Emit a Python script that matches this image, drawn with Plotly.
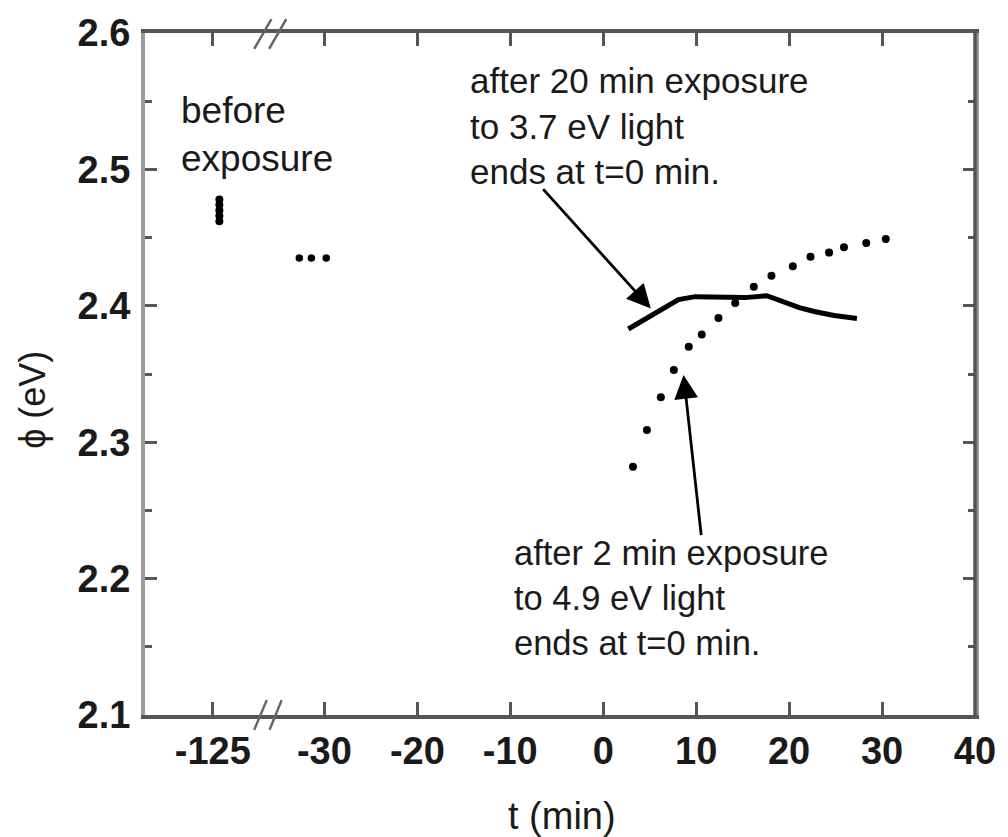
import plotly.graph_objects as go

# ---------------- data (real times in minutes, work function in eV) ----------------
t_before = [-124.3, -124.3, -124.3, -124.3, -124.3]
phi_before = [2.462, 2.466, 2.470, 2.474, 2.478]

t_pre = [-32.7, -31.4, -29.8]
phi_pre = [2.435, 2.435, 2.435]

# after 2 min exposure to 4.9 eV light
t_49 = [3.2, 4.7, 6.2, 7.6, 9.2, 10.6, 12.4, 14.2, 16.2, 18.1, 20.4, 22.3, 24.3, 25.9, 28.3, 30.4]
phi_49 = [2.282, 2.309, 2.333, 2.353, 2.370, 2.379, 2.391, 2.402, 2.414, 2.422, 2.429, 2.436,
          2.439, 2.443, 2.446, 2.449]

# after 20 min exposure to 3.7 eV light
t_37 = [2.7, 4.05, 5.65, 6.9, 8.1, 9.9, 12.8, 15.25, 17.6, 19.5, 21.1, 22.7, 24.85, 27.3]
phi_37 = [2.383, 2.3885, 2.394, 2.400, 2.4045, 2.4067, 2.4067, 2.406, 2.4074, 2.4023, 2.3987,
          2.3958, 2.3929, 2.3907]

tick_vals = [-125, -30, -20, -10, 0, 10, 20, 30, 40]
tick_text = ["-125", "-30", "-20", "-10", "0", "10", "20", "30", "40"]

# broken time axis: everything before the break is shifted right
BREAK_AT = -40
BREAK_SHIFT = 83


def disp(t):
    return [v + BREAK_SHIFT if v < BREAK_AT else v for v in t]


FONT = "Liberation Sans, Arial, sans-serif"
INK = "#1a1a1a"

fig = go.Figure()
fig.add_trace(go.Scatter(x=disp(t_before), y=phi_before, mode="markers",
                         marker=dict(color="black", size=8, symbol="circle"), showlegend=False))
fig.add_trace(go.Scatter(x=disp(t_pre), y=phi_pre, mode="markers",
                         marker=dict(color="black", size=7.5, symbol="circle"), showlegend=False))
fig.add_trace(go.Scatter(x=disp(t_49), y=phi_49, mode="markers",
                         marker=dict(color="black", size=8, symbol="circle"), showlegend=False))
fig.add_trace(go.Scatter(x=disp(t_37), y=phi_37, mode="lines",
                         line=dict(color="black", width=5), showlegend=False))

ann = []
ann.append(dict(x=-45.65, y=2.560, xref="x", yref="y", xanchor="left", yanchor="top",
                align="left", showarrow=False, text="before<br>exposure",
                font=dict(family=FONT, size=37, color=INK)))
ann.append(dict(x=-14.6, y=2.5811, xref="x", yref="y", xanchor="left", yanchor="top",
                align="left", showarrow=False,
                text="after 20 min exposure<br>to 3.7 eV light<br>ends at t=0 min.",
                font=dict(family=FONT, size=35, color=INK)))
ann.append(dict(x=-9.8, y=2.2345, xref="x", yref="y", xanchor="left", yanchor="top",
                align="left", showarrow=False,
                text="after 2 min exposure<br>to 4.9 eV light<br>ends at t=0 min.",
                font=dict(family=FONT, size=34.5, color=INK)))
# arrows
ann.append(dict(x=5.12, y=2.398, ax=-6.61, ay=2.4866, xref="x", yref="y", axref="x", ayref="y",
                text="", showarrow=True, arrowhead=2, arrowsize=1.7, arrowwidth=2.8,
                arrowcolor="black"))
ann.append(dict(x=8.64, y=2.3493, ax=10.56, ay=2.2308, xref="x", yref="y", axref="x", ayref="y",
                text="", showarrow=True, arrowhead=2, arrowsize=1.7, arrowwidth=2.8,
                arrowcolor="black"))
# axis titles
ann.append(dict(x=0.503, y=-0.148, xref="paper", yref="paper", xanchor="center", yanchor="middle",
                showarrow=False, text="t (min)", font=dict(family=FONT, size=38, color=INK)))
ann.append(dict(x=-0.135, y=0.462, xref="paper", yref="paper", xanchor="center", yanchor="middle",
                showarrow=False, text="ϕ (eV)", textangle=-90,
                font=dict(family=FONT, size=36, color=INK)))

shapes = []
# axis break marks (display coordinates)
for (x0, x1) in [(-37.55, -35.7), (-35.95, -34.1)]:
    shapes.append(dict(type="line", xref="x", yref="paper", x0=x0, x1=x1, y0=0.9767, y1=1.0203,
                       line=dict(color="#666", width=2.5)))
for (x0, x1) in [(-37.55, -36.2), (-35.9, -34.6)]:
    shapes.append(dict(type="line", xref="x", yref="paper", x0=x0, x1=x1, y0=-0.0218, y1=0.0218,
                       line=dict(color="#666", width=2.5)))
# darker right frame edge
shapes.append(dict(type="line", xref="paper", yref="paper", x0=1, x1=1, y0=0, y1=1,
                   line=dict(color="#555", width=3.5)))

fig.update_layout(
    width=1008, height=837,
    margin=dict(l=145, r=26, t=27, b=122),
    paper_bgcolor="white", plot_bgcolor="white",
    annotations=ann, shapes=shapes,
    font=dict(family=FONT, color=INK),
    xaxis=dict(range=[-49.3, 40], tickmode="array", tickvals=disp(tick_vals), ticktext=tick_text,
               ticks="inside", ticklen=13, tickwidth=3, tickcolor="#555",
               showline=True, linecolor="#555", linewidth=3.5, mirror="ticks",
               showgrid=False, zeroline=False,
               tickfont=dict(family=FONT, size=38, color=INK, weight="bold"),
               ticklabelstandoff=0),
    yaxis=dict(range=[2.1, 2.6], tickmode="linear", tick0=2.1, dtick=0.1,
               tickformat=".1f",
               ticks="inside", ticklen=12, tickwidth=3, tickcolor="#555",
               minor=dict(ticks="inside", dtick=0.05, ticklen=7, tickwidth=3, tickcolor="#555"),
               showline=True, linecolor="#9a9a9a", linewidth=4, mirror="ticks",
               showgrid=False, zeroline=False,
               tickfont=dict(family=FONT, size=38, color=INK, weight="bold"),
               ticklabelstandoff=3),
)

fig.write_html("out.html")
